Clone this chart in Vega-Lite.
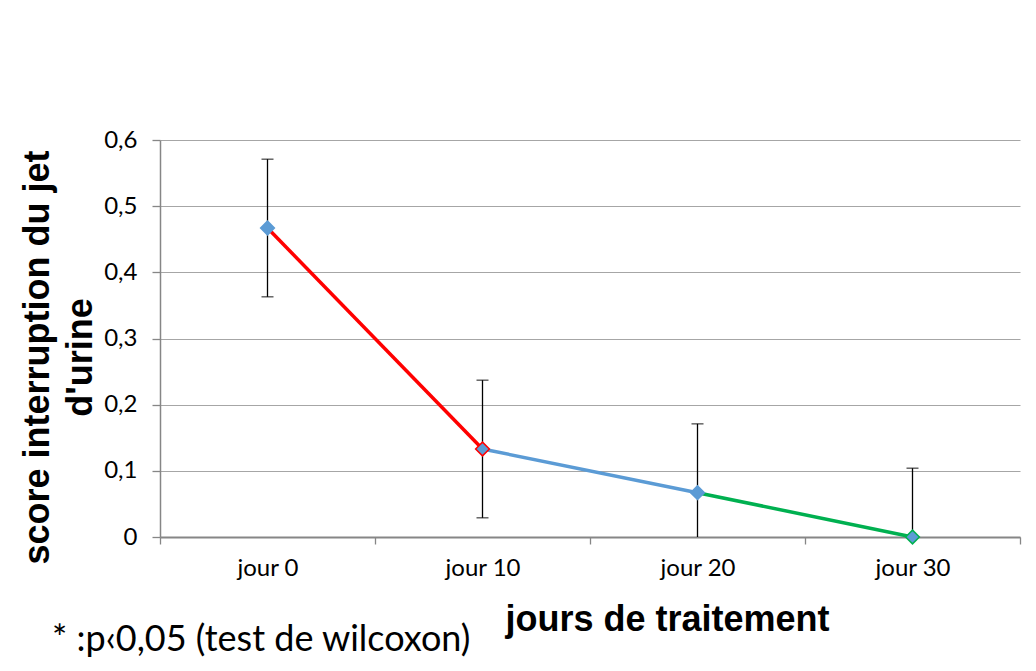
{
  "$schema": "https://vega.github.io/schema/vega-lite/v6.json",
  "width": 860,
  "height": 397,
  "autosize": {"type": "none"},
  "padding": {"left": 160, "top": 140, "right": 16, "bottom": 134},
  "background": "white",
  "config": {"view": {"stroke": null}, "font": "Lato"},
  "title": {
    "text": "* :p‹0,05 (test de wilcoxon)",
    "orient": "bottom",
    "anchor": "start",
    "frame": "group",
    "font": "Lato",
    "fontSize": 36,
    "fontWeight": "normal",
    "color": "black",
    "dx": -108,
    "offset": -14
  },
  "datasets": {
    "points": [
      {"jour": "jour 0", "score": 0.467, "bas": 0.363, "haut": 0.571, "contour": "bleu"},
      {"jour": "jour 10", "score": 0.133, "bas": 0.029, "haut": 0.237, "contour": "rouge"},
      {"jour": "jour 20", "score": 0.067, "bas": -0.037, "haut": 0.171, "contour": "bleu"},
      {"jour": "jour 30", "score": 0, "bas": -0.104, "haut": 0.104, "contour": "vert"}
    ],
    "segments": [
      {"segment": "j0-j10", "jour": "jour 0", "score": 0.467},
      {"segment": "j0-j10", "jour": "jour 10", "score": 0.133},
      {"segment": "j10-j20", "jour": "jour 10", "score": 0.133},
      {"segment": "j10-j20", "jour": "jour 20", "score": 0.067},
      {"segment": "j20-j30", "jour": "jour 20", "score": 0.067},
      {"segment": "j20-j30", "jour": "jour 30", "score": 0}
    ]
  },
  "layer": [
    {
      "data": {"name": "points"},
      "mark": {"type": "rule", "color": "black", "strokeWidth": 1.3, "clip": true},
      "encoding": {
        "x": {
          "field": "jour", "type": "nominal",
          "sort": ["jour 0", "jour 10", "jour 20", "jour 30"],
          "scale": {"type": "band", "paddingInner": 0, "paddingOuter": 0},
          "axis": {
            "labelAngle": 0,
            "labelFont": "Lato",
            "labelFontSize": 24,
            "labelColor": "black",
            "labelPadding": 12,
            "tickBand": "extent",
            "tickSize": 7,
            "tickColor": "#868686",
            "tickWidth": 1.3,
            "domainColor": "#868686",
            "domainWidth": 2,
            "grid": false,
            "title": "jours de traitement",
            "titleFont": "Liberation Sans",
            "titleFontSize": 36,
            "titleFontWeight": "bold",
            "titleColor": "black",
            "titleAlign": "center",
            "titleBaseline": "alphabetic",
            "titleX": 507,
            "titleY": 93
          }
        },
        "y": {
          "field": "bas", "type": "quantitative",
          "scale": {"domain": [0, 0.6], "nice": false},
          "axis": {
            "values": [0, 0.1, 0.2, 0.3, 0.4, 0.5, 0.6],
            "labelExpr": "datum.value == 0 ? '0' : replace(format(datum.value, '.1f'), '.', ',')",
            "labelFont": "Lato",
            "labelFontSize": 24,
            "labelColor": "black",
            "labelPadding": 15,
            "tickSize": 8,
            "tickColor": "#868686",
            "tickWidth": 1.3,
            "domainColor": "#868686",
            "domainWidth": 1.5,
            "grid": true,
            "gridColor": "#A6A6A6",
            "gridWidth": 1.2,
            "title": ["score interruption du jet", "d'urine"],
            "titleFont": "Liberation Sans",
            "titleFontSize": 36,
            "titleFontWeight": "bold",
            "titleColor": "black",
            "titleAngle": -90,
            "titleAlign": "center",
            "titleBaseline": "alphabetic",
            "titleLineHeight": 43,
            "titleX": -112,
            "titleY": 217
          }
        },
        "y2": {"field": "haut"}
      }
    },
    {
      "data": {"name": "points"},
      "mark": {"type": "tick", "color": "black", "size": 12, "thickness": 1.3, "clip": true},
      "encoding": {
        "x": {"field": "jour", "type": "nominal", "sort": ["jour 0", "jour 10", "jour 20", "jour 30"]},
        "y": {"field": "haut", "type": "quantitative"}
      }
    },
    {
      "data": {"name": "points"},
      "mark": {"type": "tick", "color": "black", "size": 12, "thickness": 1.3, "clip": true},
      "encoding": {
        "x": {"field": "jour", "type": "nominal", "sort": ["jour 0", "jour 10", "jour 20", "jour 30"]},
        "y": {"field": "bas", "type": "quantitative"}
      }
    },
    {
      "data": {"name": "segments"},
      "mark": {"type": "line", "strokeWidth": 3.5},
      "encoding": {
        "x": {"field": "jour", "type": "nominal", "sort": ["jour 0", "jour 10", "jour 20", "jour 30"]},
        "y": {"field": "score", "type": "quantitative"},
        "color": {
          "field": "segment", "type": "nominal",
          "scale": {"domain": ["j0-j10", "j10-j20", "j20-j30"], "range": ["#FF0000", "#5B9BD5", "#00B050"]},
          "legend": null
        }
      }
    },
    {
      "data": {"name": "points"},
      "mark": {"type": "point", "shape": "diamond", "size": 190, "filled": true, "fill": "#5B9BD5", "strokeWidth": 1.5, "opacity": 1},
      "encoding": {
        "x": {"field": "jour", "type": "nominal", "sort": ["jour 0", "jour 10", "jour 20", "jour 30"]},
        "y": {"field": "score", "type": "quantitative"},
        "stroke": {
          "field": "contour", "type": "nominal",
          "scale": {"domain": ["bleu", "rouge", "vert"], "range": ["#5B9BD5", "#FF0000", "#00B050"]},
          "legend": null
        }
      }
    }
  ]
}
